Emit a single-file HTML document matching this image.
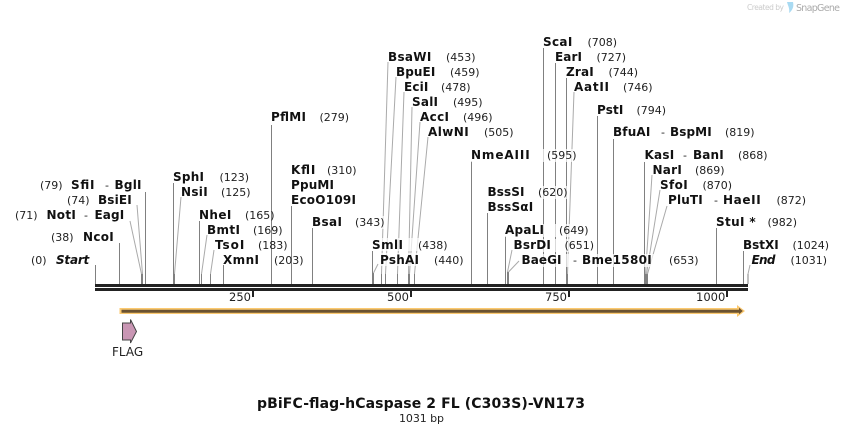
<!DOCTYPE html>
<html><head><meta charset="utf-8"><style>
html,body{margin:0;padding:0;background:#fff}
svg{display:block}
text{font-family:"DejaVu Sans","Liberation Sans",sans-serif;font-size:11px;fill:#222}
.b{font-weight:bold;font-size:12px;fill:#111}
.i{font-style:italic}
.l{stroke:#808080;stroke-width:1;fill:none}
.a{stroke:#aaa;stroke-width:1;fill:none}
</style></head><body>
<svg width="844" height="434" viewBox="0 0 844 434" xmlns="http://www.w3.org/2000/svg">
<rect width="844" height="434" fill="#fff"/>
<!-- straight connectors -->
<g class="l">
<path d="M95.5 265V284M119.5 243V284M145.5 192V284M173.5 183V284M199.5 221V284M223.5 265V284M271.5 125V284M291.5 206V284M312.5 228V284M372.5 251V284M471.5 161V284M487.5 213V284M505.5 236V284M543.5 48V284M555.5 63V284M566.5 78V284M597.5 116V284M613.5 139V284M644.5 162V284M716.5 228V284M743.5 251V284"/>
<path d="M141.5 274V284M142.5 274V284M174.5 274V284M201.5 274V284M210.5 274V284M373.5 273V284M381.5 274V284M385.5 274V284M397.5 274V284M408.5 274V284M409.5 274V284M414.5 274V284M507.5 272V284M508.5 272V284M567.5 274V284M645.5 274V284M646.5 274V284M647.5 274V284M748 274V284"/>
</g>
<!-- angled connectors -->
<g class="a">
<path d="M130 221L141.5 274M137 205L142.5 274M181 197L174.5 274M207 235L201.5 274M214 250L210.5 274"/>
<path d="M378 264L373.5 273M388 62L381.5 274M396 77L385.5 274M404 92L397.5 274M412 107L408.5 274M420 122L409.5 274M428 137L414.5 274"/>
<path d="M512 250L507.5 272M519 261L508.5 272M574 92L567.5 274"/>
<path d="M652 175L645.5 274M660 190L646.5 274M667 206L647.5 274M750 265L748 274"/>
</g>
<!-- label halos over connectors -->
<g fill="#fff" fill-opacity=".7">
<rect x="355" y="216" width="32" height="13"/>
<rect x="372" y="238" width="76" height="13"/>
<rect x="380" y="253" width="84" height="13"/>
<rect x="471" y="149" width="106" height="13"/>
<rect x="487" y="186" width="82" height="13"/>
<rect x="505" y="224" width="84" height="13"/>
<rect x="513" y="239" width="81" height="13"/>
<rect x="521" y="254" width="178" height="13"/>
</g>
<!-- backbone -->
<rect x="95" y="284" width="653" height="3" fill="#222"/>
<rect x="95" y="288" width="653" height="3" fill="#222"/>
<!-- ticks -->
<g fill="#222">
<rect x="252" y="291" width="2" height="6"/>
<rect x="410" y="291" width="2" height="6"/>
<rect x="568" y="291" width="2" height="6"/>
<rect x="726" y="291" width="2" height="6"/>
</g>
<text x="229" y="301" style="font-size:11.5px">250</text>
<text x="387" y="301" style="font-size:11.5px">500</text>
<text x="545" y="301" style="font-size:11.5px">750</text>
<text x="696" y="301" style="font-size:11.5px">1000</text>
<!-- orange arrow -->
<path d="M119.5 308H737V305L745 311L737 317V314H119.5Z" fill="#fbc970"/>
<path d="M121.5 309.7H739V307.7L742.8 311L739 314.3V312.7H121.5Z" fill="#6b5230"/>
<!-- FLAG -->
<path d="M122.5 323H130.5V319.5L136.5 331.5L130.5 343V340H122.5Z" fill="#c996b4" stroke="#444" stroke-width="1"/>
<text x="112" y="356" style="font-size:12px">FLAG</text>
<!-- left labels -->
<text x="31" y="264">(0)</text><text x="56" y="264" class="b i" textLength="33.3">Start</text>
<text x="51" y="241">(38)</text><text x="83" y="241" class="b" textLength="30.7">NcoI</text>
<text x="15" y="219">(71)</text><text x="46.5" y="219" class="b" textLength="29.3">NotI</text><text x="84" y="219">-</text><text x="94.5" y="219" class="b" textLength="29.7">EagI</text>
<text x="67" y="204">(74)</text><text x="98" y="204" class="b" textLength="33.7">BsiEI</text>
<text x="40" y="189">(79)</text><text x="71" y="189" class="b" textLength="23.5">SfiI</text><text x="105" y="189">-</text><text x="114.5" y="189" class="b" textLength="27">BglI</text>
<text x="173" y="181" class="b" textLength="31">SphI</text><text x="219.5" y="181">(123)</text>
<text x="181" y="196" class="b" textLength="26.7">NsiI</text><text x="221" y="196">(125)</text>
<text x="199" y="219" class="b" textLength="32.3">NheI</text><text x="245" y="219">(165)</text>
<text x="207" y="234" class="b" textLength="33">BmtI</text><text x="253" y="234">(169)</text>
<text x="215" y="249" class="b" textLength="29.3">TsoI</text><text x="258" y="249">(183)</text>
<text x="223" y="264" class="b" textLength="36">XmnI</text><text x="274" y="264">(203)</text>
<text x="271" y="121" class="b" textLength="35">PflMI</text><text x="319.5" y="121">(279)</text>
<text x="291" y="174" class="b" textLength="24.3">KflI</text><text x="327" y="174">(310)</text>
<text x="291" y="189" class="b" textLength="43">PpuMI</text>
<text x="291" y="204" class="b" textLength="65">EcoO109I</text>
<text x="312" y="226" class="b" textLength="30">BsaI</text><text x="355" y="226">(343)</text>
<!-- middle labels -->
<text x="372" y="249" class="b" textLength="31">SmlI</text><text x="418" y="249">(438)</text>
<text x="380" y="264" class="b" textLength="39">PshAI</text><text x="434" y="264">(440)</text>
<text x="388" y="61" class="b" textLength="43.3">BsaWI</text><text x="446" y="61">(453)</text>
<text x="396" y="76" class="b" textLength="39.3">BpuEI</text><text x="450" y="76">(459)</text>
<text x="404" y="91" class="b" textLength="24.3">EciI</text><text x="441" y="91">(478)</text>
<text x="412" y="106" class="b" textLength="26">SalI</text><text x="453" y="106">(495)</text>
<text x="420" y="121" class="b" textLength="29">AccI</text><text x="463" y="121">(496)</text>
<text x="428" y="136" class="b" textLength="40.7">AlwNI</text><text x="484" y="136">(505)</text>
<text x="471" y="159" class="b" textLength="58.7">NmeAIII</text><text x="547" y="159">(595)</text>
<text x="487.5" y="196" class="b" textLength="37">BssSI</text><text x="538" y="196">(620)</text>
<text x="487.5" y="211" class="b" textLength="45.7">BssSαI</text>
<text x="505" y="234" class="b" textLength="39">ApaLI</text><text x="559" y="234">(649)</text>
<text x="513.5" y="249" class="b" textLength="37.3">BsrDI</text><text x="564.5" y="249">(651)</text>
<text x="521.5" y="264" class="b" textLength="40">BaeGI</text><text x="573" y="264">-</text><text x="582" y="264" class="b" textLength="69.7">Bme1580I</text><text x="669" y="264">(653)</text>
<!-- right labels -->
<text x="543" y="46" class="b" textLength="29.3">ScaI</text><text x="587.5" y="46">(708)</text>
<text x="555" y="61" class="b" textLength="27">EarI</text><text x="596.5" y="61">(727)</text>
<text x="566" y="76" class="b" textLength="27.7">ZraI</text><text x="608.5" y="76">(744)</text>
<text x="574" y="91" class="b" textLength="35">AatII</text><text x="623" y="91">(746)</text>
<text x="597" y="114" class="b" textLength="26.3">PstI</text><text x="636.5" y="114">(794)</text>
<text x="613" y="136" class="b" textLength="37.3">BfuAI</text><text x="661" y="136">-</text><text x="670" y="136" class="b" textLength="41.7">BspMI</text><text x="725" y="136">(819)</text>
<text x="644.5" y="159" class="b" textLength="29.7">KasI</text><text x="683" y="159">-</text><text x="693" y="159" class="b" textLength="30.7">BanI</text><text x="738" y="159">(868)</text>
<text x="652.5" y="174" class="b" textLength="29.3">NarI</text><text x="695" y="174">(869)</text>
<text x="660" y="189" class="b" textLength="27.7">SfoI</text><text x="702.5" y="189">(870)</text>
<text x="668" y="204" class="b" textLength="34.7">PluTI</text><text x="714" y="204">-</text><text x="723" y="204" class="b" textLength="37.7">HaeII</text><text x="776.5" y="204">(872)</text>
<text x="716" y="226" class="b" textLength="39.7">StuI *</text><text x="767.5" y="226">(982)</text>
<text x="743" y="249" class="b" textLength="35.7">BstXI</text><text x="792.5" y="249">(1024)</text>
<text x="751.5" y="264" class="b i" textLength="24">End</text><text x="790.5" y="264">(1031)</text>
<!-- title -->
<text x="257" y="408" textLength="328" style="font-size:14px;font-weight:bold;fill:#111">pBiFC-flag-hCaspase 2 FL (C303S)-VN173</text>
<text x="399" y="422" textLength="45" style="font-size:11px">1031 bp</text>
<!-- watermark -->
<text x="747" y="10" textLength="37" style="font-size:7.5px;fill:#ccc">Created by</text>
<path d="M787 2H793C794 6 793 10 789 13C790 9 788 6 787 2Z" fill="#a9daf2"/>
<text x="796" y="11" textLength="44" style="font-size:9.5px;fill:#aaa">SnapGene</text>
</svg>
</body></html>
